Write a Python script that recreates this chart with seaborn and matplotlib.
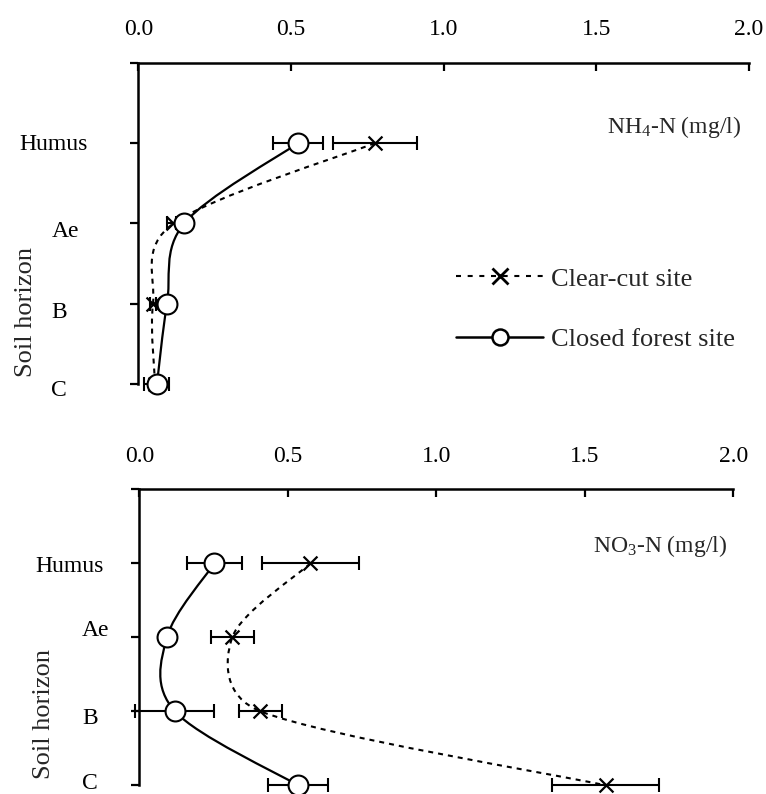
import numpy as np
import pandas as pd
import seaborn as sns
import matplotlib
matplotlib.use("Agg")
import matplotlib.pyplot as plt
from matplotlib.lines import Line2D
from matplotlib.path import Path
from matplotlib.patches import PathPatch
from matplotlib.transforms import ScaledTranslation

# ---------------- data ----------------
horizons = ["Humus", "Ae", "B", "C"]
x_ticks = [0.0, 0.5, 1.0, 1.5, 2.0]
x_tick_labels = ["0.0", "0.5", "1.0", "1.5", "2.0"]
series_names = ["Clear-cut site", "Closed forest site"]

nh4_clear_mean = [0.775, 0.115, 0.048, 0.055]
nh4_clear_err = [0.137, 0.021, 0.010, 0.010]
nh4_closed_mean = [0.523, 0.150, 0.094, 0.061]
nh4_closed_err = [0.082, 0.025, 0.020, 0.041]

no3_clear_mean = [0.576, 0.313, 0.408, 1.570]
no3_clear_err = [0.163, 0.073, 0.072, 0.180]
no3_closed_mean = [0.253, 0.093, 0.120, 0.534]
no3_closed_err = [0.093, 0.020, 0.133, 0.101]

# ---------------- style ----------------
sns.set_style("white")
plt.rcParams["font.family"] = ["Liberation Serif", "DejaVu Serif"]
plt.rcParams["mathtext.fontset"] = "custom"
plt.rcParams["mathtext.rm"] = "Liberation Serif"
plt.rcParams["mathtext.it"] = "Liberation Serif:italic"

W, H = 766, 794
fig = plt.figure(figsize=(W / 100, H / 100), dpi=100)


def px_axes(left, right, top, bottom):
    return fig.add_axes([left / W, 1 - bottom / H, (right - left) / W, (bottom - top) / H])


ax1 = px_axes(138.3, 749.0, 62.7, 384.3)
ax2 = px_axes(139.3, 733.3, 489.3, 785.3)


def excel_smooth_path(ax, xs, ys):
    """Excel-style smoothed line (Bezier, tension 1/6, capped at half segment)."""
    P = ax.transData.transform(np.column_stack([xs, ys]).astype(float))
    ext = np.vstack([P[0], P, P[-1]])
    verts = [P[0]]
    codes = [Path.MOVETO]
    for i in range(len(P) - 1):
        p0, p1, p2, p3 = ext[i], ext[i + 1], ext[i + 2], ext[i + 3]
        d12 = np.hypot(*(p2 - p1))
        d02 = np.hypot(*(p2 - p0))
        d13 = np.hypot(*(p3 - p1))
        f1 = 1 / 6
        if d02 * f1 > d12 / 2 and d02 > 0:
            f1 = d12 / 2 / d02
        f2 = 1 / 6
        if d13 * f2 > d12 / 2 and d13 > 0:
            f2 = d12 / 2 / d13
        c1 = p1 + (p2 - p0) * f1
        c2 = p2 - (p3 - p1) * f2
        verts += [c1, c2, p2]
        codes += [Path.CURVE4] * 3
    verts = ax.transData.inverted().transform(np.array(verts))
    return Path(verts, codes)


def draw_panel(ax, clear_m, clear_e, closed_m, closed_e, label_txt, label_xy,
               ylabel_xy, tick_offsets):
    ypos = np.arange(len(horizons))
    ax.set_xlim(0, 2)
    ax.set_ylim(3, -1)

    # smoothed lines
    ax.add_patch(PathPatch(excel_smooth_path(ax, clear_m, ypos), fill=False,
                           edgecolor="black", lw=1.5, linestyle=(0, (2.4, 2.4)),
                           zorder=2, clip_on=False))
    ax.add_patch(PathPatch(excel_smooth_path(ax, closed_m, ypos), fill=False,
                           edgecolor="black", lw=1.6, linestyle="-",
                           zorder=2, clip_on=False))

    # error bars
    for m, e in ((clear_m, clear_e), (closed_m, closed_e)):
        cont = ax.errorbar(m, ypos, xerr=e, fmt="none", ecolor="black",
                           elinewidth=1.5, capsize=4.8, capthick=1.5, zorder=3)
        for art in cont.get_children():
            art.set_clip_on(False)

    # markers
    df = pd.DataFrame({"value": list(clear_m) + list(closed_m),
                       "pos": list(ypos) + list(ypos),
                       "site": [series_names[0]] * 4 + [series_names[1]] * 4})
    d_clear = df[df["site"] == series_names[0]]
    d_closed = df[df["site"] == series_names[1]]
    sns.scatterplot(data=d_clear, x="value", y="pos", marker="x", s=100,
                    color="black", linewidth=1.6, ax=ax, zorder=4,
                    clip_on=False, legend=False)
    sns.scatterplot(data=d_closed, x="value", y="pos", marker="o", s=205,
                    facecolor="white", edgecolor="black", linewidth=1.5,
                    ax=ax, zorder=5, clip_on=False, legend=False)

    ax.set_xlim(0, 2)
    ax.set_ylim(3, -1)
    ax.set_xlabel("")

    # axes styling
    for s in ["right", "bottom"]:
        ax.spines[s].set_visible(False)
    for s in ["top", "left"]:
        ax.spines[s].set_visible(True)
        ax.spines[s].set_linewidth(1.8)
        ax.spines[s].set_color("black")

    ax.xaxis.tick_top()
    ax.set_xticks(x_ticks)
    ax.set_xticklabels(x_tick_labels)
    ax.tick_params(axis="x", which="major", direction="in", length=6, width=1.6,
                   pad=16, labelsize=17, top=True, bottom=False,
                   labeltop=True, labelbottom=False, colors="black")

    ax.set_yticks([-1, 0, 1, 2, 3])
    ax.set_yticklabels([""] + horizons)
    ax.tick_params(axis="y", which="major", direction="out", length=6, width=1.6,
                   pad=0, labelsize=17, left=True, colors="black")
    labels = ax.get_yticklabels()[1:]
    for lab, (dx, dy) in zip(labels, tick_offsets):
        lab.set_horizontalalignment("center")
        lab.set_verticalalignment("center")
        lab.set_transform(lab.get_transform() +
                          ScaledTranslation(dx / 100, dy / 100, fig.dpi_scale_trans))

    ax.set_ylabel("Soil horizon", fontsize=19, va="center")
    ax.yaxis.set_label_coords(*ylabel_xy)

    ax.text(label_xy[0], label_xy[1], label_txt, transform=ax.transAxes,
            ha="right", va="baseline", fontsize=17)


draw_panel(ax1, nh4_clear_mean, nh4_clear_err, nh4_closed_mean, nh4_closed_err,
           r"NH$_\mathrm{4}$-N (mg/l)", (0.9877, 0.7814), (-0.1839, 0.2248),
           [(-76, -1.3), (-64, -8.3), (-71, -8.8), (-71.5, -6.3)])

draw_panel(ax2, no3_clear_mean, no3_clear_err, no3_closed_mean, no3_closed_err,
           r"NO$_\mathrm{3}$-N (mg/l)", (0.9894, 0.7882), (-0.1604, 0.2409),
           [(-61, -2.8), (-35, 6.4), (-41, -7.1), (-41, 2.0)])

# legend
h_clear = Line2D([], [], color="black", lw=1.5, linestyle=(0, (2.4, 3.2)),
                 marker="x", markersize=12, markeredgewidth=2.0)
h_closed = Line2D([], [], color="black", lw=1.8, linestyle="-", marker="o",
                  markersize=11.5, markerfacecolor="white",
                  markeredgecolor="black", markeredgewidth=1.8)
ax1.legend([h_clear, h_closed], series_names, loc="center left",
           bbox_to_anchor=(456 / W, 1 - 309 / H), bbox_transform=fig.transFigure,
           frameon=False, fontsize=19, handlelength=3.3, handletextpad=0.3,
           labelspacing=1.4, borderpad=0, borderaxespad=0)

fig.savefig("out.png", dpi=100)
